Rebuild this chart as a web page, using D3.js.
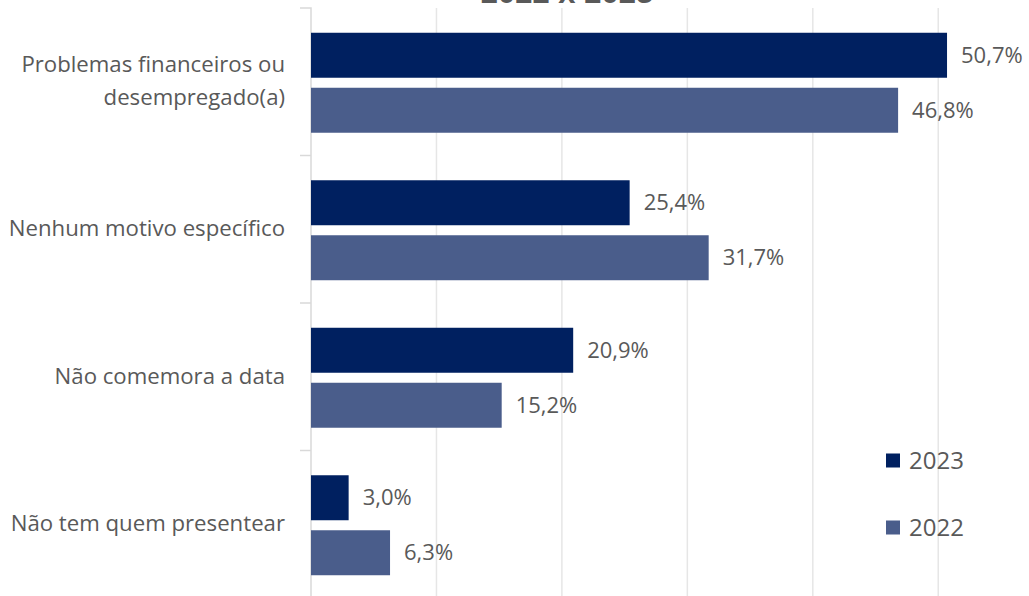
<!DOCTYPE html>
<html><head><meta charset="utf-8">
<script src="https://cdn.jsdelivr.net/npm/d3@7"></script>
<style>body{margin:0;background:#fff;} svg{display:block;}</style>
</head><body>
<svg id="c" width="1029" height="596"></svg>
<script>
const categories = [["Problemas financeiros ou","desempregado(a)"],["Nenhum motivo específico"],["Não comemora a data"],["Não tem quem presentear"]];
const seriesNames = ["2023","2022"];
const values2023 = [50.7, 25.4, 20.9, 3.0];
const values2022 = [46.8, 31.7, 15.2, 6.3];
const xTicks = [0,10,20,30,40,50,60];
const colors = ["#002060","#4a5d8b"];
const titleText = "2022 x 2023";

const svg = d3.select("#c");
const font = "'Open Sans', sans-serif";
const x = d3.scaleLinear().domain([0,60]).range([311, 311+60*12.545]);
const y = d3.scaleBand().domain(d3.range(categories.length)).range([8,598]);
const inner = d3.scaleBand().domain([0,1]).range([1,y.bandwidth()+1]).paddingInner(0.182).paddingOuter(0.432);

// gridlines
svg.append("g").selectAll("line").data(xTicks.slice(1)).join("line")
  .attr("x1",d=>x(d)).attr("x2",d=>x(d)).attr("y1",8).attr("y2",596)
  .attr("stroke","#e6e6e6").attr("stroke-width",1.5);

// title
svg.append("text").attr("x",567).attr("y",3).attr("text-anchor","middle")
  .attr("font-family","'Liberation Sans', Arial, sans-serif").attr("font-weight","bold")
  .attr("font-size",31).attr("fill","#595959").text(titleText);

// y axis
const yAxis = d3.axisLeft(y).tickSize(0).tickFormat("");
const ga = svg.append("g").attr("transform","translate(311,0)").call(yAxis);
ga.select(".domain").attr("stroke","#d9d9d9").attr("stroke-width",1.5).attr("d","M-11,8H0V598");
ga.selectAll(".tick").remove();
svg.append("g").selectAll("line").data(d3.range(1,categories.length)).join("line")
  .attr("x1",300).attr("x2",311).attr("y1",d=>y(d)).attr("y2",d=>y(d))
  .attr("stroke","#d9d9d9").attr("stroke-width",1.5);

const data = [values2023, values2022];
data.forEach((vals,s)=>{
  const g = svg.append("g");
  g.selectAll("rect").data(vals).join("rect")
    .attr("x",x(0)).attr("y",(d,i)=>y(i)+inner(s))
    .attr("width",d=>x(d)-x(0)).attr("height",inner.bandwidth())
    .attr("fill",colors[s]);
  g.selectAll("text").data(vals).join("text")
    .attr("x",d=>x(d)+14).attr("y",(d,i)=>y(i)+inner(s)+inner.bandwidth()/2)
    .attr("dy","0.35em").attr("font-family",font).attr("font-size",22).attr("fill","#595959")
    .text(d=>d.toFixed(1).replace(".",",")+"%");
});

// category labels
const cl = svg.append("g");
categories.forEach((lines,i)=>{
  const cy = y(i)+y.bandwidth()/2;
  const lh = 33;
  lines.forEach((t,j)=>{
    cl.append("text").attr("x",285).attr("y",cy - 1 + (j-(lines.length-1)/2)*lh)
      .attr("dy","0.35em").attr("text-anchor","end")
      .attr("font-family",font).attr("font-size",22.2).attr("fill","#595959").text(t);
  });
});

// legend
const lg = svg.append("g");
seriesNames.forEach((n,i)=>{
  const cy = 461 + i*67;
  lg.append("rect").attr("x",886).attr("y",cy-7.5).attr("width",14).attr("height",14).attr("fill",colors[i]);
  lg.append("text").attr("x",909).attr("y",cy).attr("dy","0.35em")
    .attr("font-family",font).attr("font-size",24).attr("fill","#595959").text(n);
});
</script>
</body></html>
